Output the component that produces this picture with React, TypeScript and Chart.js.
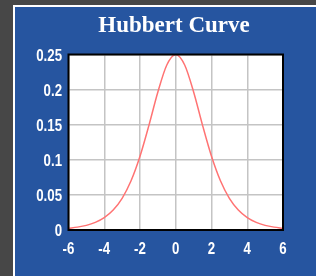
import React, { useEffect, useRef } from "react";
import { Chart, registerables } from "chart.js";

Chart.register(...registerables);

const titleText = "Hubbert Curve";
const xValues = [-6, -5.5, -5, -4.5, -4, -3.5, -3, -2.5, -2, -1.5, -1, -0.5, 0, 0.5, 1, 1.5, 2, 2.5, 3, 3.5, 4, 4.5, 5, 5.5, 6];
const yValues = [0.0025, 0.0041, 0.0066, 0.0109, 0.0177, 0.0285, 0.0452, 0.0701, 0.105, 0.1491, 0.1966, 0.235, 0.25, 0.235, 0.1966, 0.1491, 0.105, 0.0701, 0.0452, 0.0285, 0.0177, 0.0109, 0.0066, 0.0041, 0.0025];
const xTicks = [-6, -4, -2, 0, 2, 4, 6];
const xTickLabels = ["-6", "-4", "-2", "0", "2", "4", "6"];
const yTicks = [0, 0.05, 0.1, 0.15, 0.2, 0.25];
const yTickLabels = ["0", "0.05", "0.1", "0.15", "0.2", "0.25"];

const BLUE = "#2655a0";
const TICK_FONT = "bold 17px 'Liberation Sans', Arial, sans-serif";
const SQUEEZE = 0.78;

export default function App() {
  const ref = useRef<HTMLCanvasElement | null>(null);

  useEffect(() => {
    if (!ref.current) return;
    const titlePlugin = {
      id: "customTitle",
      afterDraw(chart: any) {
        const ctx = chart.ctx;
        ctx.save();
        ctx.fillStyle = "#ffffff";
        ctx.font = "bold 23px 'Liberation Serif', serif";
        ctx.textAlign = "center";
        ctx.textBaseline = "alphabetic";
        ctx.fillText(titleText, 159, 24.5);
        ctx.restore();
      },
    };
    const labelsPlugin = {
      id: "condensedLabels",
      afterDraw(chart: any) {
        const ctx = chart.ctx;
        const xs = chart.scales.x;
        const ys = chart.scales.y;
        const area = chart.chartArea;
        ctx.save();
        ctx.fillStyle = "#ffffff";
        ctx.font = TICK_FONT;
        ctx.textBaseline = "alphabetic";
        // y labels, right aligned
        ctx.textAlign = "right";
        yTicks.forEach((v, i) => {
          const py = ys.getPixelForValue(v);
          ctx.save();
          ctx.translate(area.left - 6.5, py + 6);
          ctx.scale(SQUEEZE, 1);
          ctx.fillText(yTickLabels[i], 0, 0);
          ctx.restore();
        });
        // x labels, centred
        ctx.textAlign = "center";
        xTicks.forEach((v, i) => {
          const px = xs.getPixelForValue(v);
          ctx.save();
          ctx.translate(px, area.bottom + 24);
          ctx.scale(SQUEEZE, 1);
          ctx.fillText(xTickLabels[i], 0, 0);
          ctx.restore();
        });
        ctx.restore();
      },
    };
    const framePlugin = {
      id: "frame",
      afterDraw(chart: any) {
        const { left, top, right, bottom } = chart.chartArea;
        const ctx = chart.ctx;
        ctx.save();
        ctx.strokeStyle = "#000000";
        ctx.lineWidth = 2;
        ctx.strokeRect(left, top, right - left, bottom - top);
        ctx.restore();
      },
    };
    const bgPlugin = {
      id: "areaBg",
      beforeDraw(chart: any) {
        const { left, top, right, bottom } = chart.chartArea;
        const ctx = chart.ctx;
        ctx.save();
        ctx.fillStyle = "#ffffff";
        ctx.fillRect(left, top, right - left, bottom - top);
        ctx.restore();
      },
    };
    const chart = new Chart(ref.current, {
      type: "line",
      data: {
        datasets: [
          {
            data: xValues.map((x, i) => ({ x, y: yValues[i] })),
            borderColor: "#ff7373",
            borderWidth: 1.5,
            pointRadius: 0,
            fill: false,
            cubicInterpolationMode: "monotone",
          },
        ],
      },
      options: {
        responsive: false,
        animation: false,
        layout: { padding: { top: 47.5, right: 33, bottom: 16, left: 0 } },
        plugins: { legend: { display: false }, tooltip: { enabled: false }, title: { display: false } },
        scales: {
          x: {
            type: "linear",
            min: -6,
            max: 6,
            afterBuildTicks: (s: any) => {
              s.ticks = xTicks.map((v) => ({ value: v }));
            },
            afterFit: (s: any) => {
              s.height = 30;
            },
            grid: { color: "#c4c4c4", lineWidth: 1.5, drawTicks: false },
            border: { display: false },
            ticks: { display: false },
          },
          y: {
            type: "linear",
            min: 0,
            max: 0.25,
            afterBuildTicks: (s: any) => {
              s.ticks = yTicks.map((v) => ({ value: v }));
            },
            afterFit: (s: any) => {
              s.width = 53.5;
            },
            grid: { color: "#c4c4c4", lineWidth: 1.5, drawTicks: false },
            border: { display: false },
            ticks: { display: false },
          },
        },
      },
      plugins: [bgPlugin, framePlugin, labelsPlugin, titlePlugin],
    } as any);
    return () => chart.destroy();
  }, []);

  return (
    <div style={{ position: "fixed", left: 0, top: 0, width: 316, height: 276, background: "#474747", overflow: "hidden" }}>
      <div
        style={{
          position: "absolute",
          left: 13,
          top: 5,
          width: 303,
          height: 271,
          background: BLUE,
          borderLeft: "2px solid #ffffff",
          borderTop: "2px solid #ffffff",
          boxSizing: "border-box",
        }}
      >
        <canvas ref={ref} width={301} height={269} style={{ display: "block" }} />
      </div>
    </div>
  );
}
